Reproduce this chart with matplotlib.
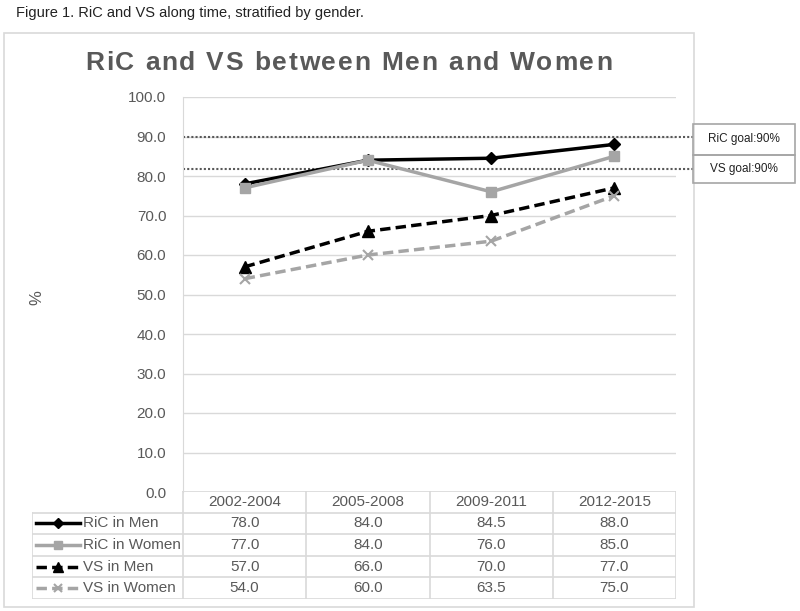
import numpy as np
import matplotlib
matplotlib.use('Agg')
import matplotlib.pyplot as plt
from matplotlib.patches import Rectangle

plt.rcParams['font.family'] = ['Liberation Sans', 'DejaVu Sans']

periods = ['2002-2004', '2005-2008', '2009-2011', '2012-2015']
series_names = ['RiC in Men', 'RiC in Women', 'VS in Men', 'VS in Women']
ric_men = [78.0, 84.0, 84.5, 88.0]
ric_women = [77.0, 84.0, 76.0, 85.0]
vs_men = [57.0, 66.0, 70.0, 77.0]
vs_women = [54.0, 60.0, 63.5, 75.0]
goal_values = [90.0, 81.8]
goal_labels = ['RiC goal:90%', 'VS goal:90%']
yticks = np.arange(0, 101, 10)

W, H = 800, 611
fig = plt.figure(figsize=(W / 100, H / 100), dpi=100)

def fx(px):
    return px / W

def fy(py):
    return 1 - py / H

TXT = '#595959'
GRID = '#D9D9D9'

# outer chart border
fig.patches.append(Rectangle((fx(4), fy(607)), fx(690), (607 - 33) / H, transform=fig.transFigure,
                             fill=False, edgecolor=GRID, lw=1.2))

fig.text(fx(16), fy(13), 'Figure 1. RiC and VS along time, stratified by gender.',
         fontsize=10.5, color='#222222', va='center', ha='left')

# main plot
ax = fig.add_axes([fx(183), fy(492), fx(676 - 183), (492 - 97) / H])
x = np.arange(len(periods))
styles = [
    dict(color='black', ls='-', marker='D', ms=6),
    dict(color='#A5A5A5', ls='-', marker='s', ms=7),
    dict(color='black', ls=(0, (3, 1.5)), marker='^', ms=8),
    dict(color='#A5A5A5', ls=(0, (3, 1.5)), marker='x', ms=7, mew=1.5),
]
data = [ric_men, ric_women, vs_men, vs_women]
for vals, st in zip(data, styles):
    ax.plot(x, vals, lw=2.5, zorder=3, **st)

ax.set_xlim(-0.5, len(periods) - 0.5)
ax.set_ylim(0, 100)
ax.set_yticks(yticks)
ax.set_yticklabels([f'{v:.1f}' for v in yticks], fontsize=11, color=TXT)
ax.tick_params(axis='y', length=0, pad=12)
ax.set_xticks([])
ax.yaxis.grid(True, color=GRID, lw=1)
ax.set_axisbelow(True)
for s in ['top', 'right', 'bottom']:
    ax.spines[s].set_visible(False)
ax.spines['left'].set_color(GRID)
fig.text(fx(37), fy(298), '%', rotation=90, fontsize=12, color=TXT, va='center', ha='center')

# goal lines + labels
ext = (693 - 183) / (676 - 183)
for gv in goal_values:
    ax.axhline(gv, xmin=0, xmax=ext, color='#595959', ls=(0, (1, 1)), lw=1.5, clip_on=False, zorder=2)
box_edges = [124, 155, 183]
for i, lab in enumerate(goal_labels):
    y0, y1 = box_edges[i], box_edges[i + 1]
    fig.patches.append(Rectangle((fx(693), fy(y1)), fx(102), (y1 - y0) / H, transform=fig.transFigure,
                                 fill=False, edgecolor='#A6A6A6', lw=1.2))
    fig.text(fx(744), fy((y0 + y1) / 2), lab, fontsize=8.5, color='#222222', ha='center', va='center')

# title with letter spacing
title = 'RiC and VS between Men and Women'
renderer = fig.canvas.get_renderer()
fs = 19
def adv(ch):
    a = fig.text(0, 0, 'x' + ch + 'x', fontsize=fs, fontweight='bold')
    b = fig.text(0, 0, 'xx', fontsize=fs, fontweight='bold')
    w = a.get_window_extent(renderer).width - b.get_window_extent(renderer).width
    a.remove(); b.remove()
    return w
widths = [adv(c) for c in title]
target = 612 - 85
track = (target - sum(widths)) / (len(title) - 1)
cx = 85
for c, w in zip(title, widths):
    fig.text(fx(cx), fy(63), c, fontsize=fs, fontweight='bold', color=TXT, ha='left', va='center')
    cx += w + track

# data table
tx0, tx1 = 32, 676
unit_px = (676 - 183) / len(periods)
left_units = (183 - 32) / unit_px
tab = fig.add_axes([fx(tx0), fy(599), fx(tx1 - tx0), (599 - 491) / H])
tab.set_xlim(-0.5 - left_units, len(periods) - 0.5)
nrows = len(series_names) + 1
tab.set_ylim(0, nrows)
tab.axis('off')
xl = -0.5 - left_units
tab.plot([-0.5, len(periods) - 0.5], [nrows, nrows], color=GRID, lw=1.2)
for r in range(nrows):
    tab.plot([xl, len(periods) - 0.5], [r, r], color=GRID, lw=1.2)
tab.plot([xl, xl], [0, nrows - 1], color=GRID, lw=1.2)
for k in range(len(periods) + 1):
    tab.plot([k - 0.5, k - 0.5], [0, nrows], color=GRID, lw=1.2)
for j, p in enumerate(periods):
    tab.text(j, nrows - 0.5, p, ha='center', va='center', fontsize=11, color=TXT)
for i, (name, vals, st) in enumerate(zip(series_names, data, styles)):
    yc = nrows - 1.5 - i
    lx0 = xl + 4 / unit_px
    lx1 = xl + 48 / unit_px
    tab.plot([lx0, lx1], [yc, yc], lw=2.5, color=st['color'], ls=st['ls'])
    tab.plot([(lx0 + lx1) / 2], [yc], marker=st['marker'], color=st['color'], ms=st['ms'] * 0.85,
             mew=st.get('mew', 1), ls='none')
    tab.text(xl + 51 / unit_px, yc, name, ha='left', va='center', fontsize=11, color=TXT)
    for j, v in enumerate(vals):
        tab.text(j, yc, f'{v:.1f}', ha='center', va='center', fontsize=11, color=TXT)

fig.savefig('out.png', dpi=100)
